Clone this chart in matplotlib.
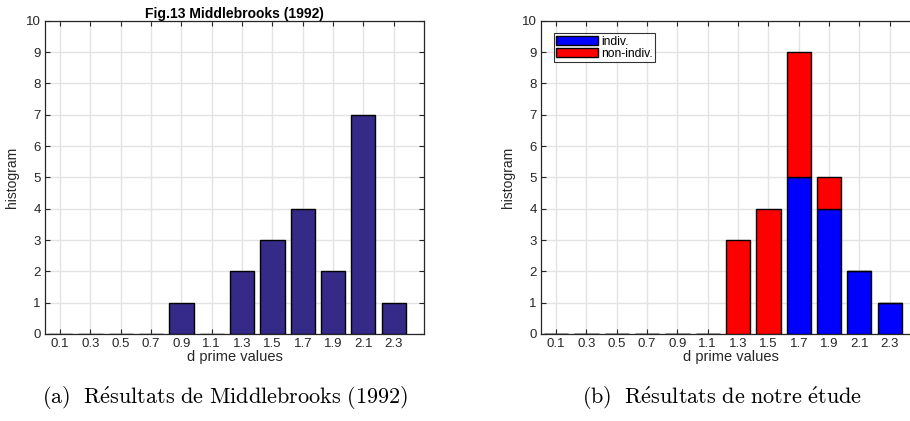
import matplotlib
matplotlib.use("Agg")
import matplotlib.pyplot as plt
import numpy as np

d_values = [0.1, 0.3, 0.5, 0.7, 0.9, 1.1, 1.3, 1.5, 1.7, 1.9, 2.1, 2.3]
tick_labels = ["0.1", "0.3", "0.5", "0.7", "0.9", "1.1", "1.3", "1.5", "1.7", "1.9", "2.1", "2.3"]
middlebrooks_counts = [0, 0, 0, 0, 1, 0, 2, 3, 4, 2, 7, 1]
indiv_counts = [0, 0, 0, 0, 0, 0, 0, 0, 5, 4, 2, 1]
nonindiv_counts = [0, 0, 0, 0, 0, 0, 3, 4, 4, 1, 0, 0]

plt.rcParams["mathtext.fontset"] = "cm"

W, H = 910, 421
fig = plt.figure(figsize=(W / 100, H / 100), dpi=100)

sans = ["Liberation Sans", "DejaVu Sans"]
tick_fs = 9.5

def style_axes(ax):
    ax.set_xlim(0, 2.5)
    ax.set_ylim(0, 10)
    ax.set_xticks(d_values)
    ax.set_xticklabels(tick_labels, fontsize=tick_fs, family=sans, color="#262626")
    ax.set_yticks(range(0, 11))
    ax.set_yticklabels([str(i) for i in range(0, 11)], fontsize=tick_fs, family=sans, color="#262626")
    ax.tick_params(direction="in", length=3.5, width=0.8, top=True, right=True, pad=3, colors="#262626")
    ax.grid(True, color="#e3e3e3", linewidth=1.0)
    ax.set_axisbelow(True)
    for s in ax.spines.values():
        s.set_color("#262626")
        s.set_linewidth(0.9)
    ax.set_xlabel("d prime values", fontsize=10.5, family=sans, color="#262626", labelpad=0)
    ax.set_ylabel("histogram", fontsize=10, family=sans, color="#262626", labelpad=5)

ax_h = (334 - 20.7) / H
ax_b = (H - 334) / H
ax_w = 379 / W

ax1 = fig.add_axes([45 / W, ax_b, ax_w, ax_h])
ax1.bar(d_values, middlebrooks_counts, width=0.16, color="#352a87", edgecolor="black", linewidth=1.0, zorder=3)
style_axes(ax1)
ax1.set_title("Fig.13 Middlebrooks (1992)", fontsize=10, fontweight="bold", family=sans, pad=2)

ax2 = fig.add_axes([541 / W, ax_b, ax_w, ax_h])
b1 = ax2.bar(d_values, indiv_counts, width=0.16, color="#0000ff", edgecolor="black", linewidth=1.0, zorder=3, label="indiv.")
b2 = ax2.bar(d_values, nonindiv_counts, bottom=indiv_counts, width=0.16, color="#ff0000", edgecolor="black", linewidth=1.0, zorder=3, label="non-indiv.")
style_axes(ax2)
leg = ax2.legend(loc="upper left", bbox_to_anchor=(0.033, 0.96), prop={"family": sans, "size": 8.7},
                 frameon=True, fancybox=False, edgecolor="black", handlelength=3.5, handleheight=0.7,
                 handletextpad=0.25, borderpad=0.2, labelspacing=0.0, borderaxespad=0)
leg.get_frame().set_linewidth(0.8)

cap_a = r"$\mathrm{(a)\ \ R\acute{e}sultats\ de\ Middlebrooks\ (1992)}$"
cap_b = r"$\mathrm{(b)\ \ R\acute{e}sultats\ de\ notre\ \acute{e}tude}$"
fig.text(225 / W, 1 - 398 / H, cap_a, ha="center", va="center", fontsize=16)
fig.text(722 / W, 1 - 398 / H, cap_b, ha="center", va="center", fontsize=16)

fig.savefig("out.png", dpi=100)
